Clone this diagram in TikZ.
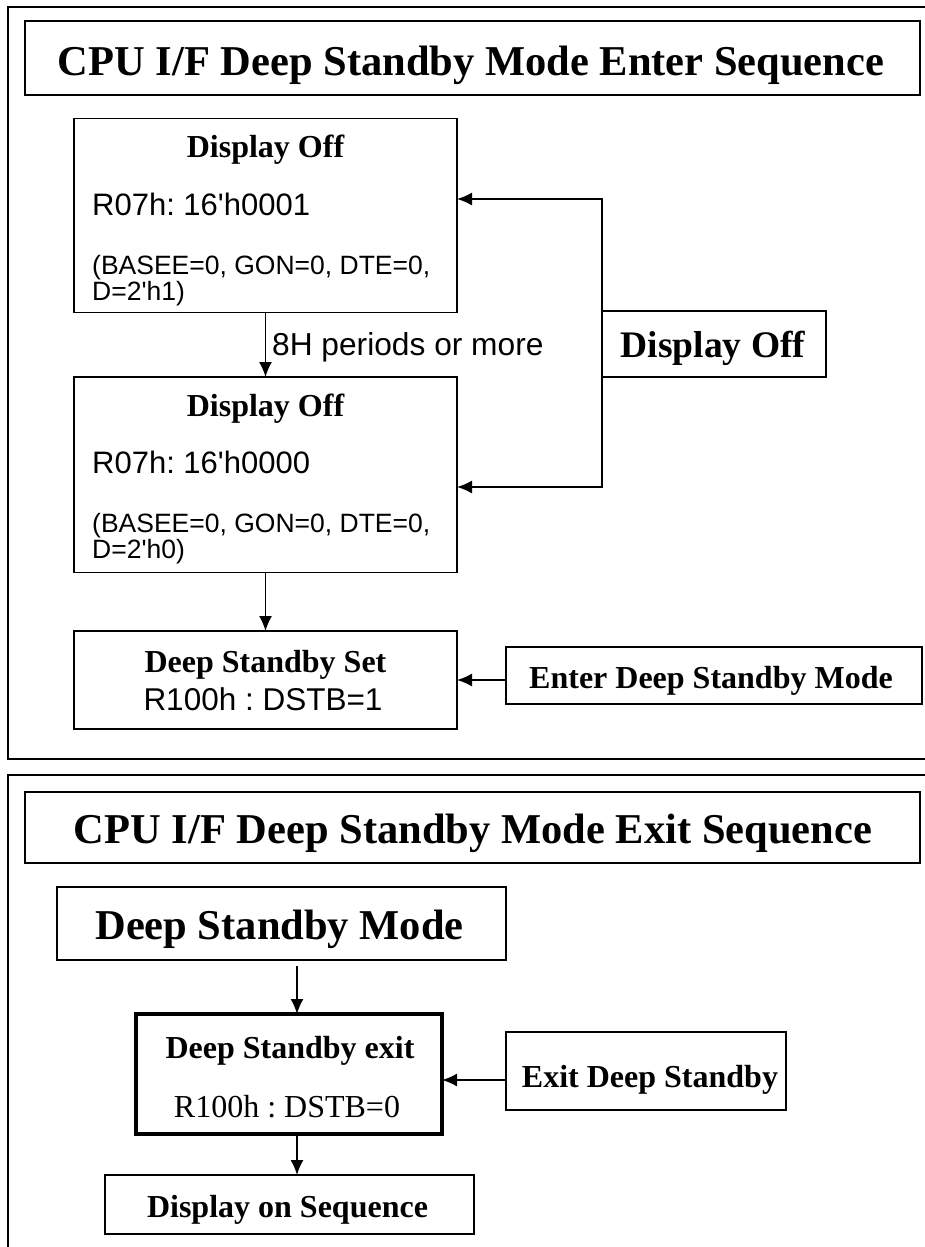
\documentclass[tikz,border=0pt]{standalone}
\usepackage{fontspec}
\setmainfont{Liberation Serif}
\newfontfamily\arialf{Liberation Sans}
\usetikzlibrary{arrows.meta}
\newcommand{\fsz}[1]{\fontsize{#1}{#1}\selectfont}

\begin{document}
\frenchspacing
\begin{tikzpicture}[x=1pt,y=-1pt,
  box/.style={draw, line width=1.6pt, inner sep=0pt, outer sep=0pt},
  ttl/.style={anchor=base, inner sep=0pt, font=\bfseries\fsz{42.5}},
  hd/.style={anchor=base, inner sep=0pt, font=\bfseries\fsz{32}},
  sf/.style={anchor=base west, inner sep=0pt, font=\arialf\fsz{#1}},
  arr/.style={line width=1.6pt, -{Latex[length=15pt,width=13pt]}}]
\useasboundingbox (0,0) rectangle (925,1247);
% outer frames
\draw[line width=1.6pt] (930,7) -- (8,7) -- (8,759) -- (930,759);
\draw[line width=1.6pt] (930,775) -- (8,775) -- (8,1252);
%
% enter sequence
\node[box, minimum width=895pt, minimum height=74pt] (enterTtl) at (472.5,58) {};
\node[ttl] (enterTxt) at (471,75) {CPU I/F Deep Standby Mode Enter Sequence};
\node[box, minimum width=383pt, minimum height=194pt] (offA) at (265.5,215.5) {};
	\node[hd] (offAhd) at (265.5,157.5) {Display Off};
	\node[sf=31] (offAreg) at (92,215) {R07h: 16\textquotesingle h0001};
	\node[sf=26.5] (offAbits) at (92,274) {(BASEE=0, GON=0, DTE=0,};
	\node[sf=26.5] (offAd) at (92,300) {D=2\textquotesingle h1)};
\node[box, minimum width=383pt, minimum height=195.5pt] (offB) at (265.5,474.75) {};
	\node[hd] (offBhd) at (265.5,416) {Display Off};
	\node[sf=31] (offBreg) at (92,473.5) {R07h: 16\textquotesingle h0000};
	\node[sf=26.5] (offBbits) at (92,532.5) {(BASEE=0, GON=0, DTE=0,};
	\node[sf=26.5] (offBd) at (92,558.5) {D=2\textquotesingle h0)};
\draw[arr] (offA) -- (offB);
\node[sf=31.7] (waitTxt) at (272,355) {8H periods or more};
%
\node[box, minimum width=224pt, minimum height=66pt] (offC) at (714,344) {};
\node[anchor=base, inner sep=0pt, font=\bfseries\fsz{37.5}] (offCtxt) at (713,357.5) {Display Off};
\coordinate (fbA) at (602,199);
\coordinate (fbB) at (602,487);
\draw[arr] (offC.north west) -- (fbA) -- (fbA -| offA.east);
\draw[arr] (offC.south west) -- (fbB) -- (fbB -| offB.east);
%
\node[box, minimum width=383pt, minimum height=98pt] (setD) at (265.5,680) {};
	\node[hd] (setDhd) at (265.5,672) {Deep Standby Set};
	\node[anchor=base, inner sep=0pt, font=\arialf\fsz{31.5}] (setDreg) at (263,710) {R100h : DSTB=1};
\draw[arr] (offB) -- (setD);
\node[box, minimum width=416pt, minimum height=57pt] (enterE) at (714,675.5) {};
	\node[hd] (enterEtxt) at (711,688) {Enter Deep Standby Mode};
\draw[arr] (enterE.west |- setD.east) -- (setD.east);
%
% exit sequence
\node[box, minimum width=895pt, minimum height=71pt] (exitTtl) at (472.5,827.5) {};
\node[ttl] (exitTxt) at (473,843) {CPU I/F Deep Standby Mode Exit Sequence};
\node[box, minimum width=449pt, minimum height=73pt] (modeF) at (281.5,923.5) {};
	\node[ttl] (modeFtxt) at (279.5,939) {Deep Standby Mode};
\node[box, line width=3.5pt, minimum width=306pt, minimum height=120pt] (exitG) at (289,1074) {};
	\node[hd] (exitGhd) at (290,1058) {Deep Standby exit};
	\node[anchor=base, inner sep=0pt, font=\fsz{32}] (exitGreg) at (287,1117) {R100h : DSTB=0};
\node[box, minimum width=280pt, minimum height=78pt] (exitH) at (646,1071) {};
	\node[hd] (exitHtxt) at (650,1087) {Exit Deep Standby};
\node[box, minimum width=369pt, minimum height=59pt] (dispI) at (289.5,1204.5) {};
	\node[hd] (dispItxt) at (287.5,1217) {Display on Sequence};
\coordinate (gx) at (297,0);
\coordinate (hy) at (0,1080);
\draw[arr, shorten <=6pt] (modeF.south -| gx) -- (exitG.north -| gx);
\draw[arr] (exitH.west |- hy) -- (exitG.east |- hy);
\draw[arr] (exitG.south -| gx) -- (dispI.north -| gx);
\end{tikzpicture}
\end{document}
